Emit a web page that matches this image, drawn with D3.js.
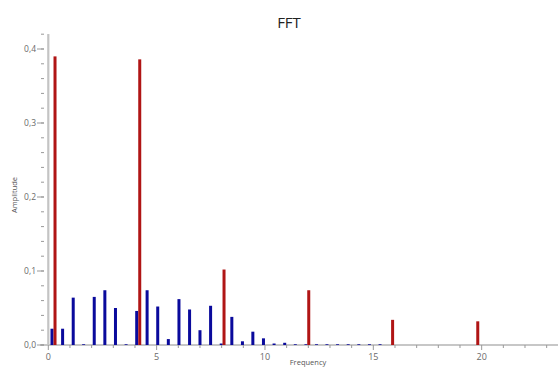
<!DOCTYPE html>
<html lang="en">
<head>
    <meta charset="UTF-8">
    <title>FFT</title>
    <script src="https://d3js.org/d3.v7.min.js"></script>
    <style>
        body { margin: 0; background: #fff; }
        text { font-family: "Open Sans", "DejaVu Sans", sans-serif; }
    </style>
</head>
<body>
<script>
    // red series (main harmonics)
    var redFreq = [0.31, 4.22, 8.11, 12.02, 15.89, 19.82];
    var redAmp = [0.390, 0.386, 0.102, 0.074, 0.034, 0.032];

    // blue series
    var blueFreq = [0.17, 0.66, 1.15, 1.63, 2.12, 2.61, 3.10, 3.59, 4.08, 4.56, 5.05, 5.54,
        6.03, 6.52, 7.00, 7.49, 7.98, 8.47, 8.96, 9.44, 9.93, 10.42, 10.91, 11.40,
        11.89, 12.38, 12.86, 13.35, 13.84, 14.33, 14.82, 15.31];
    var blueAmp = [0.022, 0.022, 0.064, 0.001, 0.065, 0.074, 0.050, 0.001, 0.046, 0.074, 0.052, 0.008,
        0.062, 0.048, 0.020, 0.053, 0.002, 0.038, 0.005, 0.018, 0.009, 0.002, 0.003, 0.001,
        0.001, 0.001, 0.001, 0.001, 0.001, 0.001, 0.001, 0.001];

    var xMajorTicks = [0, 5, 10, 15, 20];
    var yMajorTicks = [0, 0.1, 0.2, 0.3, 0.4];

    var width = 558, height = 367;
    var x = d3.scaleLinear().domain([0, 23.5]).range([48.3, 557.5]);
    var y = d3.scaleLinear().domain([0, 0.42]).range([345, 34.2]);
    var axisColor = "#b4b4b4";
    var labelColor = "#6a6a6a";

    var svg = d3.select("body").append("svg")
        .attr("width", width)
        .attr("height", height);

    // title
    svg.append("text")
        .attr("x", 289).attr("y", 28)
        .attr("text-anchor", "middle")
        .attr("font-size", 15)
        .attr("fill", "#222")
        .text("FFT");

    // x axis: line, minor ticks every 1, major ticks every 5
    var xa = svg.append("g");
    xa.append("line")
        .attr("x1", 40).attr("x2", width)
        .attr("y1", y(0)).attr("y2", y(0))
        .attr("stroke", axisColor).attr("stroke-width", 1.5);
    xa.selectAll("line.minor")
        .data(d3.range(1, 24))
        .enter().append("line")
        .attr("class", "minor")
        .attr("x1", function (d) { return x(d); })
        .attr("x2", function (d) { return x(d); })
        .attr("y1", y(0)).attr("y2", function (d) { return y(0) + (d % 5 === 0 ? 5 : 3); })
        .attr("stroke", "#999").attr("stroke-width", 1);
    xa.append("line")
        .attr("x1", x(0)).attr("x2", x(0))
        .attr("y1", y(0)).attr("y2", y(0) + 5)
        .attr("stroke", "#999");
    xa.selectAll("text")
        .data(xMajorTicks)
        .enter().append("text")
        .attr("x", function (d) { return x(d); })
        .attr("y", 360)
        .attr("text-anchor", "middle")
        .attr("font-size", 9)
        .attr("fill", labelColor)
        .text(function (d) { return d; });
    svg.append("text")
        .attr("x", 308).attr("y", 365)
        .attr("text-anchor", "middle")
        .attr("font-size", 7.5)
        .attr("fill", "#555")
        .text("Frequency");

    // y axis
    var ya = svg.append("g");
    ya.append("line")
        .attr("x1", 48.3).attr("x2", 48.3)
        .attr("y1", 34).attr("y2", y(0))
        .attr("stroke", "#c4c4c4").attr("stroke-width", 2.2);
    ya.selectAll("line.minor")
        .data(d3.range(0, 22).map(function (i) { return i * 0.02; }))
        .enter().append("line")
        .attr("class", "minor")
        .attr("x1", 41).attr("x2", 44)
        .attr("y1", function (d) { return y(d); })
        .attr("y2", function (d) { return y(d); })
        .attr("stroke", "#999");
    ya.selectAll("line.major")
        .data(yMajorTicks)
        .enter().append("line")
        .attr("class", "major")
        .attr("x1", 37).attr("x2", 44)
        .attr("y1", function (d) { return y(d); })
        .attr("y2", function (d) { return y(d); })
        .attr("stroke", "#999");
    ya.selectAll("text")
        .data(yMajorTicks)
        .enter().append("text")
        .attr("x", 36)
        .attr("y", function (d) { return y(d) + 3; })
        .attr("text-anchor", "end")
        .attr("font-size", 8.5)
        .attr("fill", labelColor)
        .text(function (d) { return d3.format(".1f")(d).replace(".", ","); });
    svg.append("text")
        .attr("transform", "translate(17,195) rotate(-90)")
        .attr("text-anchor", "middle")
        .attr("font-size", 7.5)
        .attr("fill", "#555")
        .text("Amplitude");

    // bars
    var barW = 3;
    svg.append("g").selectAll("rect")
        .data(d3.zip(blueFreq, blueAmp))
        .enter().append("rect")
        .attr("x", function (d) { return x(d[0]) - barW / 2; })
        .attr("width", barW)
        .attr("y", function (d) { return y(d[1]); })
        .attr("height", function (d) { return y(0) - y(d[1]); })
        .attr("fill", "#0a0a9c");

    svg.append("g").selectAll("rect")
        .data(d3.zip(redFreq, redAmp))
        .enter().append("rect")
        .attr("x", function (d) { return x(d[0]) - barW / 2; })
        .attr("width", barW)
        .attr("y", function (d) { return y(d[1]); })
        .attr("height", function (d) { return y(0) - y(d[1]); })
        .attr("fill", "#b01515");
</script>
</body>
</html>
